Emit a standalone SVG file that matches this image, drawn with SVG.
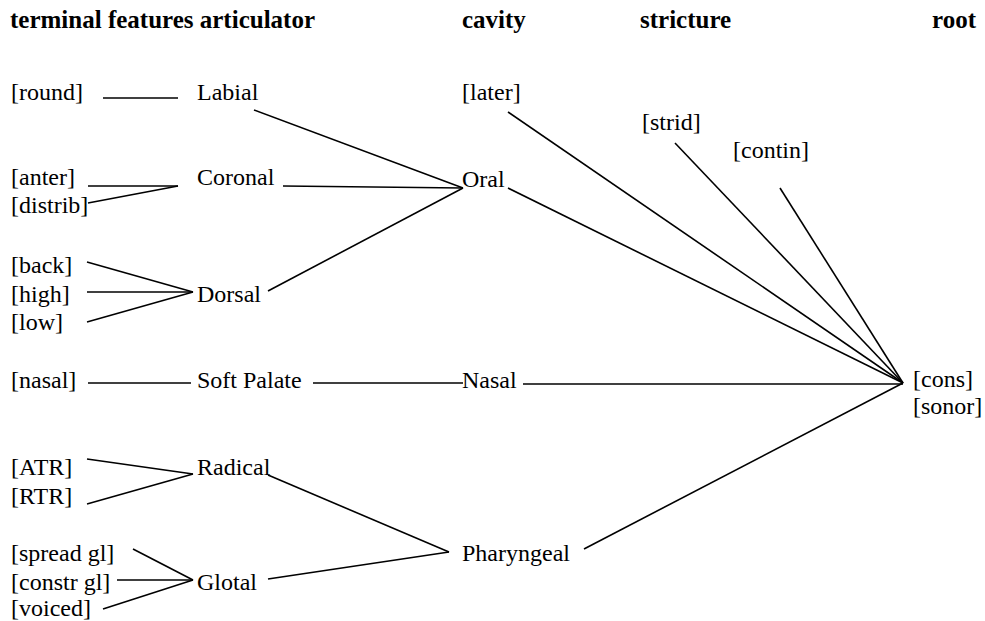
<svg xmlns="http://www.w3.org/2000/svg" width="985" height="621" viewBox="0 0 985 621">
<style>
text{font-family:'Liberation Serif','Times New Roman',Times,'DejaVu Serif',serif;font-size:24px;fill:#000}
.h{font-weight:bold;font-size:25px}
#connectors line{stroke:#000;stroke-width:1.6;fill:none}
</style>
<rect width="985" height="621" fill="#fff"/>
<g id="headers" font-family="Liberation Serif, serif">
<text class="h" x="10" y="28">terminal features articulator</text>
<text class="h" x="462" y="28">cavity</text>
<text class="h" x="640" y="28">stricture</text>
<text class="h" x="932" y="28">root</text>
</g>
<g id="connectors">
<line x1="103" y1="98" x2="178" y2="98"/>
<line x1="88" y1="186" x2="178" y2="186"/>
<line x1="88" y1="203" x2="178" y2="186"/>
<line x1="254" y1="110" x2="463" y2="188"/>
<line x1="283" y1="186" x2="463" y2="188"/>
<line x1="268" y1="291" x2="463" y2="188"/>
<line x1="87" y1="262" x2="193" y2="292"/>
<line x1="87" y1="292" x2="193" y2="292"/>
<line x1="87" y1="322" x2="193" y2="292"/>
<line x1="88" y1="383" x2="191" y2="383"/>
<line x1="313" y1="383" x2="463" y2="383"/>
<line x1="87" y1="459" x2="193" y2="474"/>
<line x1="87" y1="504" x2="193" y2="474"/>
<line x1="268" y1="475" x2="449" y2="552"/>
<line x1="133" y1="549" x2="193" y2="580"/>
<line x1="117" y1="580" x2="193" y2="580"/>
<line x1="103" y1="609" x2="193" y2="580"/>
<line x1="268" y1="579" x2="449" y2="552"/>
<line x1="508" y1="112" x2="903" y2="383"/>
<line x1="508" y1="188" x2="903" y2="383"/>
<line x1="675" y1="143" x2="903" y2="383"/>
<line x1="780" y1="188" x2="903" y2="383"/>
<line x1="523" y1="384" x2="903" y2="384"/>
<line x1="584" y1="549" x2="903" y2="383"/>
</g>
<g id="round"><text x="11" y="100">[round]</text></g>
<g id="anter"><text x="11" y="185">[anter]</text></g>
<g id="distrib"><text x="11" y="213">[distrib]</text></g>
<g id="back"><text x="11" y="273">[back]</text></g>
<g id="high"><text x="11" y="302">[high]</text></g>
<g id="low"><text x="11" y="330">[low]</text></g>
<g id="nasalf"><text x="11" y="388">[nasal]</text></g>
<g id="atr"><text x="11" y="475">[ATR]</text></g>
<g id="rtr"><text x="11" y="504">[RTR]</text></g>
<g id="spread"><text x="11" y="561">[spread gl]</text></g>
<g id="constr"><text x="11" y="590">[constr gl]</text></g>
<g id="voiced"><text x="11" y="616">[voiced]</text></g>
<g id="labial"><text x="197" y="100">Labial</text></g>
<g id="coronal"><text x="197" y="185">Coronal</text></g>
<g id="dorsal"><text x="197" y="302">Dorsal</text></g>
<g id="softpalate"><text x="197" y="388">Soft Palate</text></g>
<g id="radical"><text x="197" y="475">Radical</text></g>
<g id="glotal"><text x="197" y="590">Glotal</text></g>
<g id="later"><text x="462" y="100">[later]</text></g>
<g id="oral"><text x="462" y="187">Oral</text></g>
<g id="nasal"><text x="462" y="388">Nasal</text></g>
<g id="pharyngeal"><text x="462" y="561">Pharyngeal</text></g>
<g id="strid"><text x="642" y="130">[strid]</text></g>
<g id="contin"><text x="733" y="158">[contin]</text></g>
<g id="cons"><text x="913" y="387">[cons]</text></g>
<g id="sonor"><text x="913" y="414">[sonor]</text></g>
</svg>
